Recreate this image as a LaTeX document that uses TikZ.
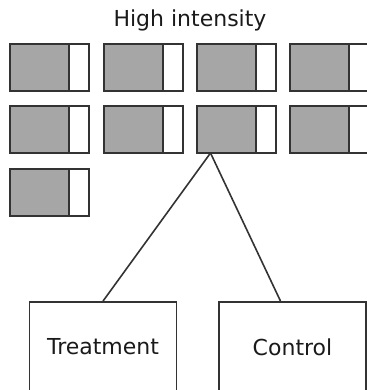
\documentclass[tikz,border=0pt]{standalone}
\usepackage{fontspec}
\setmainfont{DejaVu Sans}
\usetikzlibrary{positioning,calc}
\definecolor{LineGray}{HTML}{333333}
\definecolor{CellGray}{HTML}{A6A6A6}
\definecolor{TextGray}{HTML}{1A1A1A}

\begin{document}
\begin{tikzpicture}[
  x=1pt,y=-1pt,
  cell/.style={draw=LineGray,line width=1.8pt,fill=CellGray,minimum width=59pt,minimum height=47pt,inner sep=0pt,outer sep=0pt,anchor=north west},
  rest/.style={draw=LineGray,line width=1.8pt,fill=white,minimum width=20pt,minimum height=47pt,inner sep=0pt,outer sep=0pt,anchor=west},
  group/.style={draw=LineGray,line width=1.8pt,minimum width=147pt,minimum height=90pt,inner sep=0pt,font=\fontsize{22}{25}\selectfont,text=TextGray},
  link/.style={line width=1.6pt,LineGray}
]
\useasboundingbox (0,0) rectangle (366,390);
\node[font=\fontsize{22}{25}\selectfont,text=TextGray] (title) at (190,20) {High intensity};
% high intensity cells
\foreach \r/\y in {1/44,2/106}
  \foreach \c/\x in {1/10,2/104,3/197,4/290}{
    \node[cell] (hi\r\c) at (\x,\y) {};
    \node[rest] (hi\r\c-w) at (hi\r\c.east) {};
  }
\node[cell] (hi31) at (10,169) {};
\node[rest] (hi31-w) at (hi31.east) {};
% groups
\node[group] (treat) at (103,347) {Treatment};
\node[group] (ctrl) at (292.5,347) {Control};
\coordinate (fork) at ([xshift=-16pt]hi23.south);
\draw[link] (fork) -- (treat.north);
\draw[link] (fork) -- ([xshift=-12pt]ctrl.north);
\end{tikzpicture}
\end{document}
